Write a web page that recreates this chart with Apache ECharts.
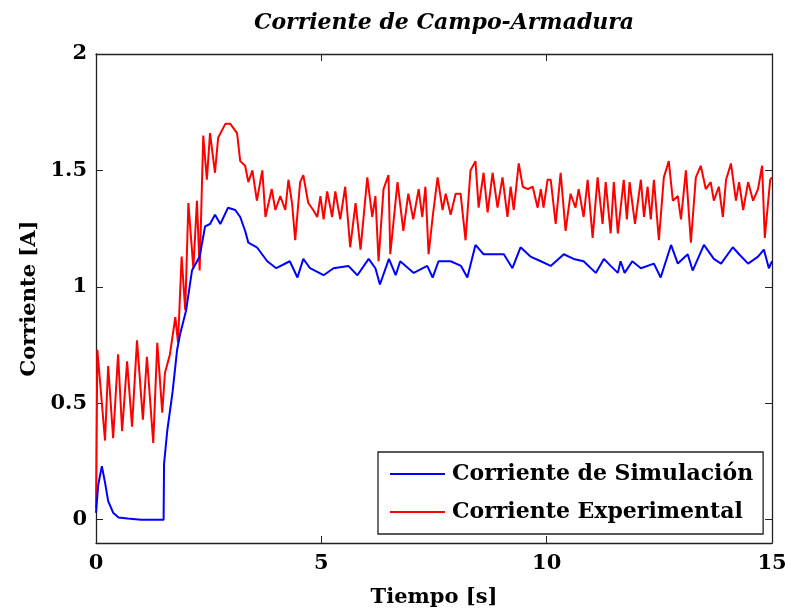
<!DOCTYPE html>
<html>
<head>
<meta charset="utf-8">
<script src="https://cdn.jsdelivr.net/npm/echarts@6/dist/echarts.min.js"></script>
<style>
  html, body { margin: 0; padding: 0; background: #fff; }
  #chart { width: 791px; height: 614px; }
</style>
</head>
<body>
<div id="chart"></div>
<script>
// simulated current (blue)
var simT = [0,0.05,0.13,0.2,0.27,0.38,0.5,0.7,1.0,1.5,
  1.51,1.58,1.7,1.8,1.87,2.0,2.13,2.3,2.42,2.53,
  2.64,2.76,2.93,3.09,3.2,3.31,3.38,3.57,3.8,4.0,
  4.3,4.47,4.6,4.75,5.05,5.27,5.6,5.8,6.05,6.2,
  6.3,6.5,6.65,6.75,7.05,7.35,7.47,7.6,7.87,8.1,
  8.24,8.42,8.6,8.82,9.05,9.24,9.42,9.64,9.87,10.09,
  10.38,10.6,10.82,11.09,11.27,11.42,11.58,11.64,11.73,11.9,
  12.09,12.38,12.53,12.76,12.91,13.13,13.24,13.49,13.71,13.87,
  14.13,14.27,14.47,14.69,14.82,14.93,15];
var simI = [0.03,0.15,0.23,0.16,0.08,0.03,0.01,0.005,0,0,
  0.24,0.38,0.55,0.73,0.8,0.9,1.07,1.13,1.26,1.27,
  1.31,1.27,1.34,1.33,1.30,1.24,1.19,1.17,1.11,1.08,
  1.11,1.04,1.12,1.08,1.05,1.08,1.09,1.05,1.12,1.08,
  1.01,1.12,1.05,1.11,1.06,1.09,1.04,1.11,1.11,1.09,
  1.04,1.18,1.14,1.14,1.14,1.08,1.17,1.13,1.11,1.09,
  1.14,1.12,1.11,1.06,1.12,1.09,1.06,1.11,1.06,1.11,
  1.08,1.10,1.04,1.18,1.10,1.14,1.07,1.18,1.12,1.10,
  1.17,1.14,1.10,1.13,1.16,1.08,1.11];

// experimental current (red)
var expT = [0,0.03,0.2,0.27,0.38,0.49,0.58,0.69,0.8,0.91,
  1.04,1.13,1.27,1.36,1.47,1.53,1.64,1.76,1.82,1.9,
  1.98,2.05,2.16,2.24,2.3,2.38,2.46,2.53,2.64,2.71,
  2.87,2.98,3.13,3.2,3.31,3.38,3.47,3.57,3.69,3.76,
  3.9,3.98,4.09,4.2,4.27,4.35,4.42,4.53,4.6,4.71,
  4.82,4.91,4.98,5.05,5.13,5.24,5.31,5.42,5.53,5.64,
  5.76,5.87,6.02,6.13,6.2,6.27,6.38,6.49,6.53,6.69,
  6.82,6.93,7.04,7.16,7.24,7.31,7.38,7.47,7.58,7.69,
  7.76,7.87,7.98,8.09,8.2,8.31,8.42,8.49,8.6,8.69,
  8.8,8.91,9.02,9.13,9.2,9.27,9.38,9.47,9.58,9.69,
  9.8,9.87,9.93,10.02,10.09,10.2,10.31,10.42,10.53,10.64,
  10.71,10.82,10.91,11.02,11.13,11.24,11.31,11.42,11.49,11.58,
  11.71,11.78,11.84,11.96,12.09,12.16,12.24,12.31,12.38,12.49,
  12.6,12.71,12.8,12.91,12.98,13.09,13.2,13.31,13.42,13.53,
  13.64,13.71,13.82,13.91,13.98,14.09,14.2,14.27,14.36,14.47,
  14.58,14.69,14.78,14.84,14.96,15];
var expI = [0.05,0.73,0.34,0.66,0.35,0.71,0.38,0.68,0.40,0.77,
  0.43,0.70,0.33,0.76,0.46,0.63,0.71,0.87,0.76,1.13,
  0.90,1.36,1.08,1.37,1.07,1.65,1.46,1.66,1.49,1.64,
  1.70,1.70,1.66,1.54,1.52,1.45,1.50,1.37,1.50,1.30,
  1.42,1.33,1.39,1.33,1.46,1.36,1.20,1.45,1.48,1.36,
  1.33,1.30,1.39,1.29,1.41,1.30,1.41,1.29,1.43,1.17,
  1.36,1.16,1.47,1.30,1.39,1.11,1.42,1.48,1.14,1.45,
  1.24,1.40,1.29,1.42,1.30,1.43,1.14,1.30,1.47,1.33,
  1.40,1.31,1.40,1.40,1.20,1.50,1.54,1.34,1.49,1.32,
  1.49,1.34,1.47,1.30,1.43,1.33,1.53,1.43,1.42,1.43,
  1.34,1.42,1.34,1.46,1.46,1.27,1.49,1.24,1.40,1.34,
  1.42,1.30,1.46,1.21,1.47,1.27,1.45,1.23,1.45,1.23,
  1.46,1.29,1.45,1.27,1.46,1.30,1.43,1.29,1.46,1.20,
  1.47,1.54,1.37,1.39,1.29,1.50,1.19,1.47,1.52,1.42,
  1.45,1.37,1.43,1.30,1.46,1.53,1.37,1.45,1.33,1.45,
  1.37,1.42,1.52,1.21,1.46,1.47];

var yTicks = [0, 0.5, 1, 1.5, 2];
var seriesNames = ['Corriente de Simulación', 'Corriente Experimental'];

function pairs(t, v) {
  var out = [];
  for (var i = 0; i < t.length; i++) out.push([t[i], v[i]]);
  return out;
}

var serif = '"DejaVu Serif", "Liberation Serif", serif';
var axisCol = '#222';
var lblStyle = { fontFamily: serif, fontWeight: 'bold', fontSize: 21, color: '#000' };

var myChart = echarts.init(document.getElementById('chart'));
var option = {
  animation: false,
  title: {
    text: 'Corriente de Campo-Armadura',
    left: 439, top: 7, textAlign: 'center',
    textStyle: { fontFamily: serif, fontStyle: 'italic', fontWeight: 'bold', fontSize: 22, color: '#000' }
  },
  grid: { left: 96, right: 19, top: 54, bottom: 71 },
  legend: {
    data: seriesNames,
    orient: 'vertical',
    left: 378, top: 452,
    icon: 'rect',
    itemWidth: 55, itemHeight: 2, itemGap: 16,
    padding: [11, 10, 11, 12],
    borderColor: axisCol, borderWidth: 1.3,
    backgroundColor: '#fff',
    textStyle: { fontFamily: serif, fontWeight: 'bold', fontSize: 22, color: '#000', padding: [0, 0, 0, 2] }
  },
  xAxis: [{
    type: 'value', min: 0, max: 15, interval: 5,
    name: 'Tiempo [s]', nameLocation: 'middle', nameGap: 44,
    nameTextStyle: lblStyle,
    axisLine: { show: true, onZero: false, lineStyle: { color: axisCol, width: 1.3 } },
    axisTick: { inside: true, length: 7, lineStyle: { color: axisCol } },
    axisLabel: Object.assign({ margin: 10 }, lblStyle),
    splitLine: { show: false }
  }, {
    type: 'value', min: 0, max: 15, interval: 5, position: 'top',
    axisLine: { show: true, onZero: false, lineStyle: { color: axisCol, width: 1.3 } },
    axisTick: { inside: true, length: 7, lineStyle: { color: axisCol } },
    axisLabel: { show: false },
    splitLine: { show: false }
  }],
  yAxis: [{
    type: 'value', min: -0.1, max: 2,
    name: 'Corriente [A]', nameLocation: 'middle', nameGap: 55,
    nameTextStyle: lblStyle,
    axisLine: { show: true, onZero: false, lineStyle: { color: axisCol, width: 1.3 } },
    axisTick: { inside: true, length: 7, customValues: yTicks, lineStyle: { color: axisCol } },
    axisLabel: Object.assign({ customValues: yTicks, margin: 9 }, lblStyle),
    splitLine: { show: false }
  }, {
    type: 'value', min: -0.1, max: 2, position: 'right',
    axisLine: { show: true, onZero: false, lineStyle: { color: axisCol, width: 1.3 } },
    axisTick: { inside: true, length: 7, customValues: yTicks, lineStyle: { color: axisCol } },
    axisLabel: { show: false },
    splitLine: { show: false }
  }],
  series: [{
    name: seriesNames[0],
    type: 'line',
    symbol: 'none',
    data: pairs(simT, simI),
    lineStyle: { color: '#0000ff', width: 2 },
    itemStyle: { color: '#0000ff' },
    z: 3
  }, {
    name: seriesNames[1],
    type: 'line',
    symbol: 'none',
    data: pairs(expT, expI),
    lineStyle: { color: '#ff0000', width: 2 },
    itemStyle: { color: '#ff0000' },
    z: 2
  }]
};
myChart.setOption(option);
</script>
</body>
</html>
